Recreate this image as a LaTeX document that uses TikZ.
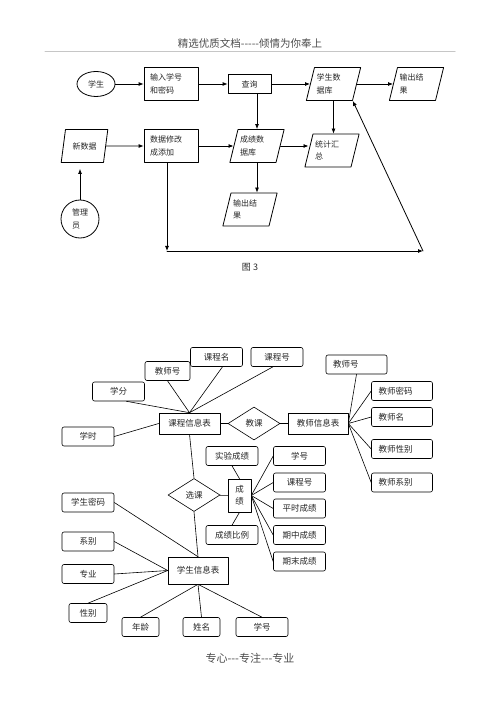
\documentclass[tikz,border=0pt]{standalone}
\usepackage{fontspec}
\setmainfont{Noto Sans CJK SC}
\usetikzlibrary{shapes.geometric,arrows.meta,calc}

\begin{document}
\begin{tikzpicture}[
    x=1pt, y=-1pt,
    line cap=round,
    line join=round,
    >={Latex[length=5pt,width=4pt]},
    every node/.style={
        font=\fontsize{8}{12.5}\selectfont,
        text=black!85
    },
    flow/.style={
        draw, line width=0.8pt,
        minimum height=33pt,
        text width=42pt, inner xsep=6pt,
        align=left
    },
    data/.style={
        trapezium, draw, line width=0.8pt,
        trapezium left angle=73, trapezium right angle=107,
        trapezium stretches body,
        minimum height=33pt,
        text width=34pt, inner xsep=2pt,
        align=left
    },
    arrow/.style={
        ->, line width=0.8pt
    },
    attr/.style={
        draw, rounded corners=2pt, line width=0.6pt,
        minimum width=52pt, minimum height=19pt,
        font=\fontsize{8.5}{12}\selectfont
    },
    tattr/.style={
        attr, text width=47pt, inner xsep=7pt, align=left
    },
    entity/.style={
        draw, line width=0.6pt,
        minimum width=60pt, minimum height=21pt,
        font=\fontsize{8.5}{12}\selectfont
    },
    rel/.style={
        diamond, draw, line width=0.6pt, inner sep=0pt,
        minimum width=52pt, minimum height=33pt,
        font=\fontsize{8.5}{12}\selectfont
    },
    link/.style={
        line width=0.6pt
    }
]

\useasboundingbox (0,0) rectangle (500,708);

% =================================================
% 页眉
% =================================================

\node[font=\fontsize{10.5}{12}\selectfont, text=black!70] (yemei) at (250,43) {精选优质文档-{}-{}-{}-{}-倾情为你奉上};
\draw[gray!45, line width=1pt] (45,52) -- (455,52);

% =================================================
% 图 3：流程图
% =================================================

% 第一行
\node[ellipse, draw, line width=0.8pt, minimum width=38pt, minimum height=25pt, inner sep=0pt] (xuesheng) at (96,84) {学生};
\node[flow] (shuru) at (171,84) {输入学号\\和密码};
\node[draw, line width=0.8pt, minimum width=43pt, minimum height=19pt] (chaxun) at (249.5,84) {查询};
\node[data] (xssjk) at (333.5,84) {学生数\\据库};
\node[data] (shuchu) at (416.5,84) {输出结\\果};

% 第二行
\node[data, align=center] (xinshuju) at (84.5,146) {新数据};
\node[flow] (xiugai) at (171,146) {数据修改\\成添加};
\node[data] (cjsjk) at (257,146) {成绩数\\据库};
\node[data] (tongji) at (332,150.5) {统计汇\\总};

% 第三行
\node[data] (shuchu2) at (250,209.5) {输出结\\果};
\node[circle, draw, line width=0.8pt, minimum size=38pt, inner sep=0pt, align=left] (guanli) at (80,219) {管理\\员};

% 回路的拐点
\coordinate (zuoxia) at (167,251);
\coordinate (youxia) at (423,251);

% 箭头
\draw[arrow] (xuesheng.east) -- (shuru.west);
\draw[arrow] (shuru.east) -- (chaxun.west);
\draw[arrow] (chaxun.east) -- (xssjk.west);
\draw[arrow] (xssjk.east) -- (shuchu.west);

\draw[arrow] (xinshuju.east) -- (xiugai.west);
\draw[arrow] (xiugai.east) -- (cjsjk.west);
\draw[arrow] (cjsjk.east) -- (cjsjk.east -| tongji.west);

\draw[arrow] (chaxun.south -| cjsjk.north) -- (cjsjk.north);
\draw[arrow] (xssjk.south) -- (xssjk.south |- tongji.north);
\draw[arrow] (cjsjk.south) -- (cjsjk.south |- shuchu2.north);
\draw[arrow, shorten >=6pt] (guanli.north) -- (guanli.north |- xinshuju.south);

\draw[arrow] (xiugai.south -| zuoxia) -- (zuoxia);
\draw[arrow] (zuoxia) -- (youxia);
\draw[arrow] (youxia) -- (xssjk.bottom right corner);

\node[font=\fontsize{9}{11}\selectfont] (tu3) at (250,267) {图 3};

% =================================================
% E-R 图
% =================================================

% 课程信息表及其属性
\node[attr] (kcm) at (216.5,357) {课程名};
\node[attr] (kch) at (277,357) {课程号};
\node[attr, minimum width=45pt] (jsh) at (167.5,371) {教师号};
\node[attr] (xuefen) at (118.5,391.5) {学分};
\node[attr] (xueshi) at (88,436.5) {学时};
\node[entity, minimum width=61pt] (kcxx) at (189.5,423.5) {课程信息表};

% 教课与教师信息表
\node[rel] (jiaoke) at (254,423.5) {教课};
\node[entity] (jsxx) at (318,423.5) {教师信息表};
\node[tattr] (jsh2) at (356.5,364.5) {教师号};
\node[tattr] (jsmm) at (402,391) {教师密码};
\node[tattr] (jsm) at (402,417) {教师名};
\node[tattr] (jsxb) at (402,449) {教师性别};
\node[tattr] (jsxib) at (402,482.5) {教师系别};

% 选课与成绩
\node[rel] (xuanke) at (194,495) {选课};
\node[entity, minimum width=23pt, minimum height=33pt, align=center] (chengji) at (239.5,495.5) {成\\绩};
\node[attr] (sycj) at (232,456) {实验成绩};
\node[attr] (cjbl) at (232,535) {成绩比例};
\node[attr] (xh) at (299.5,456) {学号};
\node[attr] (kch2) at (299.5,482.5) {课程号};
\node[attr] (pscj) at (299.5,508.5) {平时成绩};
\node[attr] (qzcj) at (299.5,535) {期中成绩};
\node[attr] (qmcj) at (299.5,561.5) {期末成绩};

% 学生信息表及其属性
\node[entity, minimum height=27pt] (xsxx) at (198,570.5) {学生信息表};
\node[attr] (xsmm) at (88,502.5) {学生密码};
\node[attr] (xibie) at (88,541.5) {系别};
\node[attr] (zhuanye) at (88,574) {专业};
\node[attr, minimum width=38pt] (xingbie) at (88,613) {性别};
\node[attr, minimum width=37pt] (nianling) at (140.5,627) {年龄};
\node[attr, minimum width=37pt] (xingming) at (201.5,627) {姓名};
\node[attr] (xh3) at (262,627) {学号};

% 连线
\draw[link] (kcxx.north) -- ($(xuefen.south)+(8,0)$);
\draw[link] (kcxx.north) -- (jsh.south);
\draw[link] (kcxx.north) -- ($(kcm.south)+(6,0)$);
\draw[link] (kcxx.north) -- ($(kch.south)+(-4,0)$);
\draw[link] (kcxx.west) -- (xueshi.east);
\draw[link] (kcxx) -- (jiaoke) -- (jsxx);

\draw[link] (jsxx.east) -- (jsh2.south);
\draw[link] (jsxx.east) -- (jsmm.west);
\draw[link] (jsxx.east) -- (jsm.west);
\draw[link] (jsxx.east) -- (jsxb.west);
\draw[link] (jsxx.east) -- (jsxib.west);

\draw[link] (kcxx.south) -- (xuanke.north);
\draw[link] (xuanke) -- (chengji);
\draw[link] (chengji.north) -- (sycj.south);
\draw[link] (chengji.south) -- (cjbl.north);
\draw[link] (chengji.east) -- (xh.west);
\draw[link] (chengji.east) -- (kch2.west);
\draw[link] (chengji.east) -- (pscj.west);
\draw[link] (chengji.east) -- (qzcj.west);
\draw[link] (chengji.east) -- (qmcj.west);

\draw[link] (xuanke.south) -- (xsxx.north);
\draw[link] (xsmm.east) -- (xsxx.north);
\draw[link] (xibie.east) -- (xsxx.west);
\draw[link] (zhuanye.east) -- (xsxx.west);
\draw[link] (xsxx.west) -- (xingbie.north);
\draw[link] (xsxx.south) -- (nianling.north);
\draw[link] (xsxx.south) -- (xingming.north);
\draw[link] (xsxx.south) -- (xh3.north);

% =================================================
% 页脚
% =================================================

\node[font=\fontsize{11}{13}\selectfont, text=black!70] (yejiao) at (250,658) {专心-{}-{}-专注-{}-{}-专业};

\end{tikzpicture}
\end{document}
